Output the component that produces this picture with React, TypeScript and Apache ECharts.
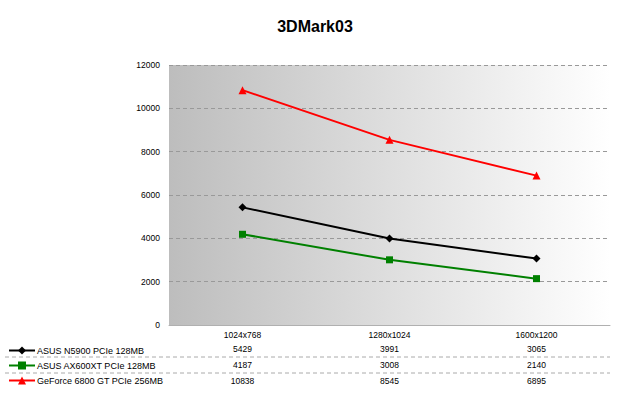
import React, { useEffect, useRef } from "react";
import * as echarts from "echarts";

const categories = ["1024x768", "1280x1024", "1600x1200"];
const seriesNames = ["ASUS N5900 PCIe 128MB", "ASUS AX600XT PCIe 128MB", "GeForce 6800 GT PCIe 256MB"];
const n5900 = [5429, 3991, 3065];
const ax600 = [4187, 3008, 2140];
const gf6800 = [10838, 8545, 6895];
const colors = ["#000000", "#008000", "#ff0000"];
const symbols = ["diamond", "rect", "triangle"];
const symbolSizes = [8, 7, 8];

const FONT = "Liberation Sans";

export default function App() {
  const ref = useRef<HTMLDivElement>(null);
  useEffect(() => {
    const chart = echarts.init(ref.current!, undefined, { renderer: "svg" });
    const allData = [n5900, ax600, gf6800];
    const gridLeft = 169;
    const gridTop = 65;
    const gridWidth = 441;
    const gridHeight = 260;
    chart.setOption({
      animation: false,
      backgroundColor: "#ffffff",
      title: {
        text: "3DMark03",
        left: 310,
        textAlign: "center",
        top: 13,
        textStyle: { fontFamily: FONT, fontSize: 16, fontWeight: "bold", color: "#000" },
      },
      legend: {
        orient: "vertical",
        left: 3,
        top: 341,
        itemWidth: 26,
        itemHeight: 10,
        itemGap: 6,
        textStyle: { fontFamily: FONT, fontSize: 9, color: "#000", padding: [0, 0, 0, -3] },
        data: seriesNames,
      },
      grid: {
        left: gridLeft,
        top: gridTop,
        width: gridWidth,
        height: gridHeight,
        show: true,
        borderWidth: 0,
        backgroundColor: new echarts.graphic.LinearGradient(0, 0, 1, 0, [
          { offset: 0, color: "#bdbdbd" },
          { offset: 1, color: "#ffffff" },
        ]),
      },
      xAxis: {
        type: "category",
        data: categories,
        boundaryGap: true,
        axisLine: { lineStyle: { color: "#b0b0b0", width: 1 } },
        axisTick: { show: false },
        axisLabel: { fontFamily: FONT, fontSize: 8.5, color: "#000", margin: 5 },
      },
      yAxis: {
        type: "value",
        min: 0,
        max: 12000,
        interval: 2000,
        axisLine: { show: false },
        axisTick: { show: false },
        axisLabel: {
          fontFamily: FONT,
          fontSize: 8.5,
          color: "#000",
          margin: 9,
          formatter: (v: number) => String(v),
        },
        splitLine: { lineStyle: { color: "#999999", type: [4, 3], width: 1 } },
      },
      series: allData.map((d, i) => ({
        name: seriesNames[i],
        type: "line",
        data: d,
        symbol: symbols[i],
        symbolSize: symbolSizes[i],
        lineStyle: { color: colors[i], width: 2 },
        itemStyle: { color: colors[i] },
        z: i === 2 ? 3 : 2,
      })),
    });

    const xs = categories.map((c) => chart.convertToPixel({ xAxisIndex: 0 }, c) as number);
    const rowY = [349, 365, 381];
    const graphics: any[] = [];
    allData.forEach((d, r) => {
      d.forEach((v, c) => {
        graphics.push({
          type: "text",
          x: xs[c],
          y: rowY[r],
          style: {
            text: String(v),
            fontFamily: FONT,
            fontSize: 8.5,
            fill: "#000",
            textAlign: "center",
            textVerticalAlign: "middle",
          },
        });
      });
    });
    [357, 373].forEach((y) => {
      graphics.push({
        type: "line",
        shape: { x1: 5, y1: y, x2: 610, y2: y },
        style: { stroke: "#aaaaaa", lineWidth: 1, lineDash: [4, 3] },
      });
    });
    chart.setOption({ graphic: graphics });
    return () => chart.dispose();
  }, []);
  return <div ref={ref} style={{ width: 620, height: 397, position: "absolute", left: 0, top: 0 }} />;
}
